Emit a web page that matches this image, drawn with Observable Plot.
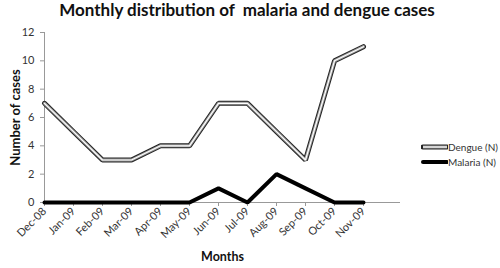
<!DOCTYPE html>
<html>
<head>
<meta charset="utf-8">
<script src="https://cdn.jsdelivr.net/npm/d3@7"></script>
<script src="https://cdn.jsdelivr.net/npm/@observablehq/plot@0.6"></script>
<style>
  html, body { margin: 0; padding: 0; background: #fff; }
  body { width: 500px; height: 268px; position: relative; overflow: hidden; font-family: Lato, "Open Sans", sans-serif; }
  #title { position: absolute; left: 0; top: 0px; width: 494px; text-align: center; font: bold 17px/19px Lato, sans-serif; color: #111; white-space: nowrap; }
  #chart { position: absolute; left: 0; top: 19px; }
  #chart svg text { fill: #333; }
  #chart g[aria-label="y-axis label"] text { font-weight: bold; font-size: 13px; fill: #111; }
  #chart g[aria-label="x-axis label"] text { font-weight: bold; font-size: 12.5px; fill: #111; }
  .legend { position: absolute; left: 421px; font: 10px Lato, sans-serif; color: #333; display: flex; align-items: center; white-space: nowrap; }
  .legend svg { margin-right: 0px; flex: none; }
</style>
</head>
<body>
<div id="title">Monthly distribution of&nbsp; malaria and dengue cases</div>
<div id="chart"></div>
<div class="legend" style="top:140px"><svg width="27" height="14"><line x1="2" x2="26" y1="7" y2="7" stroke="#222" stroke-width="5" stroke-linecap="round"/><line x1="2" x2="26" y1="7" y2="7" stroke="#999" stroke-width="3"/><line x1="2" x2="26" y1="7" y2="7" stroke="#fff" stroke-width="1.2"/></svg>Dengue (N)</div>
<div class="legend" style="top:155px"><svg width="27" height="14"><line x1="2" x2="26" y1="7" y2="7" stroke="#000" stroke-width="4" stroke-linecap="round"/></svg>Malaria (N)</div>
<script>
const months = ["Dec-08","Jan-09","Feb-09","Mar-09","Apr-09","May-09","Jun-09","Jul-09","Aug-09","Sep-09","Oct-09","Nov-09"];
const dengue = [7, 5, 3, 3, 4, 4, 7, 7, 5, 3, 10, 11];
const malaria = [0, 0, 0, 0, 0, 0, 1, 0, 2, 1, 0, 0];
const yTicks = [0, 2, 4, 6, 8, 10, 12];
const extraSlot = " ";

const rows = months.map((m, i) => ({month: m, dengue: dengue[i], malaria: malaria[i]}));

const plot = Plot.plot({
  width: 500,
  height: 249,
  marginLeft: 44,
  marginRight: 100,
  marginTop: 13,
  marginBottom: 66,
  style: {fontFamily: "Lato, sans-serif", fontSize: "11px", color: "#333", background: "#fff"},
  x: {type: "point", domain: [...months, extraSlot], padding: 0, align: 0},
  y: {domain: [0, 12]},
  marks: [
    Plot.ruleY([0], {stroke: "#999", strokeWidth: 1}),
    Plot.ruleX([months[0]], {stroke: "#999", strokeWidth: 1}),
    Plot.axisY({ticks: yTicks, tickSize: 4, tickPadding: 6, stroke: "#999", label: "Number of cases", labelAnchor: "center", labelOffset: 34, labelArrow: "none"}),
    Plot.axisX({ticks: months, tickSize: 4, tickRotate: -45, tickPadding: 3, stroke: "#999", label: "Months", labelAnchor: "center", labelOffset: 58, labelArrow: "none"}),
    Plot.line(rows, {x: "month", y: "dengue", stroke: "#222", strokeWidth: 5, strokeLinejoin: "miter"}),
    Plot.line(rows, {x: "month", y: "dengue", stroke: "#999", strokeWidth: 3, strokeLinejoin: "miter"}),
    Plot.line(rows, {x: "month", y: "dengue", stroke: "#fff", strokeWidth: 1.2, strokeLinejoin: "miter"}),
    Plot.line(rows, {x: "month", y: "malaria", stroke: "#000", strokeWidth: 4, strokeLinejoin: "miter"})
  ]
});
document.getElementById("chart").appendChild(plot);
</script>
</body>
</html>
